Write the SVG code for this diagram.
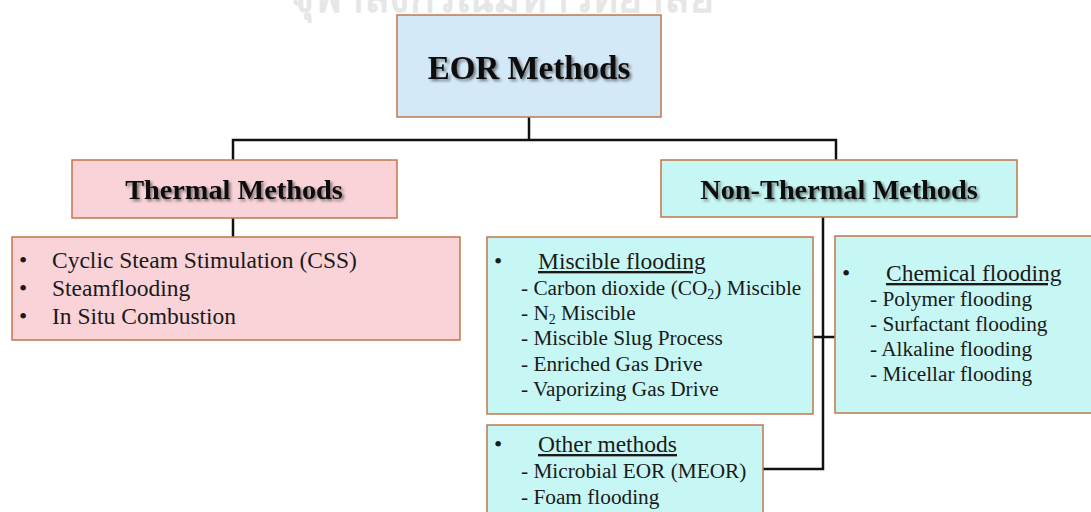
<svg xmlns="http://www.w3.org/2000/svg" width="1091" height="512" viewBox="0 0 1091 512">
<defs>
<filter id="sh" x="-10%" y="-30%" width="120%" height="160%">
<feGaussianBlur in="SourceAlpha" stdDeviation="1.4"/>
<feOffset dx="1.5" dy="1.5" result="b"/>
<feFlood flood-color="#000" flood-opacity="0.5"/>
<feComposite in2="b" operator="in"/>
<feMerge><feMergeNode/><feMergeNode in="SourceGraphic"/></feMerge>
</filter>
</defs>
<style>
.box{stroke:#c0774b;stroke-width:1.5}
.blue{fill:#d4e9f7}
.pink{fill:#f9d3d8}
.cyan{fill:#c6f7f4}
.title{font-family:"Liberation Serif",serif;font-weight:bold;fill:#111;text-anchor:middle}
.t{font-family:"Liberation Serif",serif;font-size:23.5px;fill:#1a1a1a}
.s{font-family:"Liberation Serif",serif;font-size:21.3px;fill:#1a1a1a}
.u{text-decoration:underline}
.wm{font-family:"Noto Sans","DejaVu Sans",sans-serif;font-size:40px;font-weight:bold;fill:#e6e6e6}
.c{fill:none;stroke:#111;stroke-width:2.5}
</style>
<text class="wm" x="290" y="12" textLength="423" lengthAdjust="spacingAndGlyphs">จุฬาลงกรณ์มหาวิทยาลัย</text>
<g id="connectors">
<polyline class="c" points="529,117 529,140"/>
<polyline class="c" points="233,160 233,140 836,140 836,160"/>
<polyline class="c" points="233,218 233,237"/>
<polyline class="c" points="823,217 823,469 763,469"/>
<polyline class="c" points="813,337 835,337"/>
</g>
<g id="eor">
<rect class="box blue" x="397" y="15" width="264" height="102"/>
<text class="title" x="529" y="79" font-size="33" filter="url(#sh)">EOR Methods</text>
</g>
<g id="thermal">
<rect class="box pink" x="72" y="160" width="325" height="58"/>
<text class="title" x="234" y="199" font-size="28.3" filter="url(#sh)">Thermal Methods</text>
</g>
<g id="nonthermal">
<rect class="box cyan" x="661" y="160" width="356" height="57"/>
<text class="title" x="839" y="199" font-size="28.3" filter="url(#sh)">Non-Thermal Methods</text>
</g>
<g id="thermal-list">
<rect class="box pink" x="12" y="237" width="448" height="103"/>
<text class="t" x="19" y="268">•</text>
<text class="t" x="52" y="268">Cyclic Steam Stimulation (CSS)</text>
<text class="t" x="19" y="296">•</text>
<text class="t" x="52" y="296">Steamflooding</text>
<text class="t" x="19" y="324">•</text>
<text class="t" x="52" y="324">In Situ Combustion</text>
</g>
<g id="miscible">
<rect class="box cyan" x="487" y="237" width="326" height="177"/>
<text class="t" x="494" y="269">•</text>
<text class="t u" x="538" y="269">Miscible flooding</text>
<text class="s" x="521" y="295">- Carbon dioxide (CO<tspan font-size="14" dy="4">2</tspan><tspan dy="-4">) Miscible</tspan></text>
<text class="s" x="521" y="320">- N<tspan font-size="14" dy="4">2</tspan><tspan dy="-4"> Miscible</tspan></text>
<text class="s" x="521" y="345">- Miscible Slug Process</text>
<text class="s" x="521" y="371">- Enriched Gas Drive</text>
<text class="s" x="521" y="396">- Vaporizing Gas Drive</text>
</g>
<g id="chemical">
<rect class="box cyan" x="835" y="236" width="262" height="177"/>
<text class="t" x="842" y="281">•</text>
<text class="t u" x="886" y="281">Chemical flooding</text>
<text class="s" x="870" y="306">- Polymer flooding</text>
<text class="s" x="870" y="331">- Surfactant flooding</text>
<text class="s" x="870" y="356">- Alkaline flooding</text>
<text class="s" x="870" y="381">- Micellar flooding</text>
</g>
<g id="other">
<rect class="box cyan" x="487" y="425" width="276" height="100"/>
<text class="t" x="494" y="452">•</text>
<text class="t u" x="538" y="452">Other methods</text>
<text class="s" x="521" y="478">- Microbial EOR (MEOR)</text>
<text class="s" x="521" y="504">- Foam flooding</text>
</g>
</svg>
